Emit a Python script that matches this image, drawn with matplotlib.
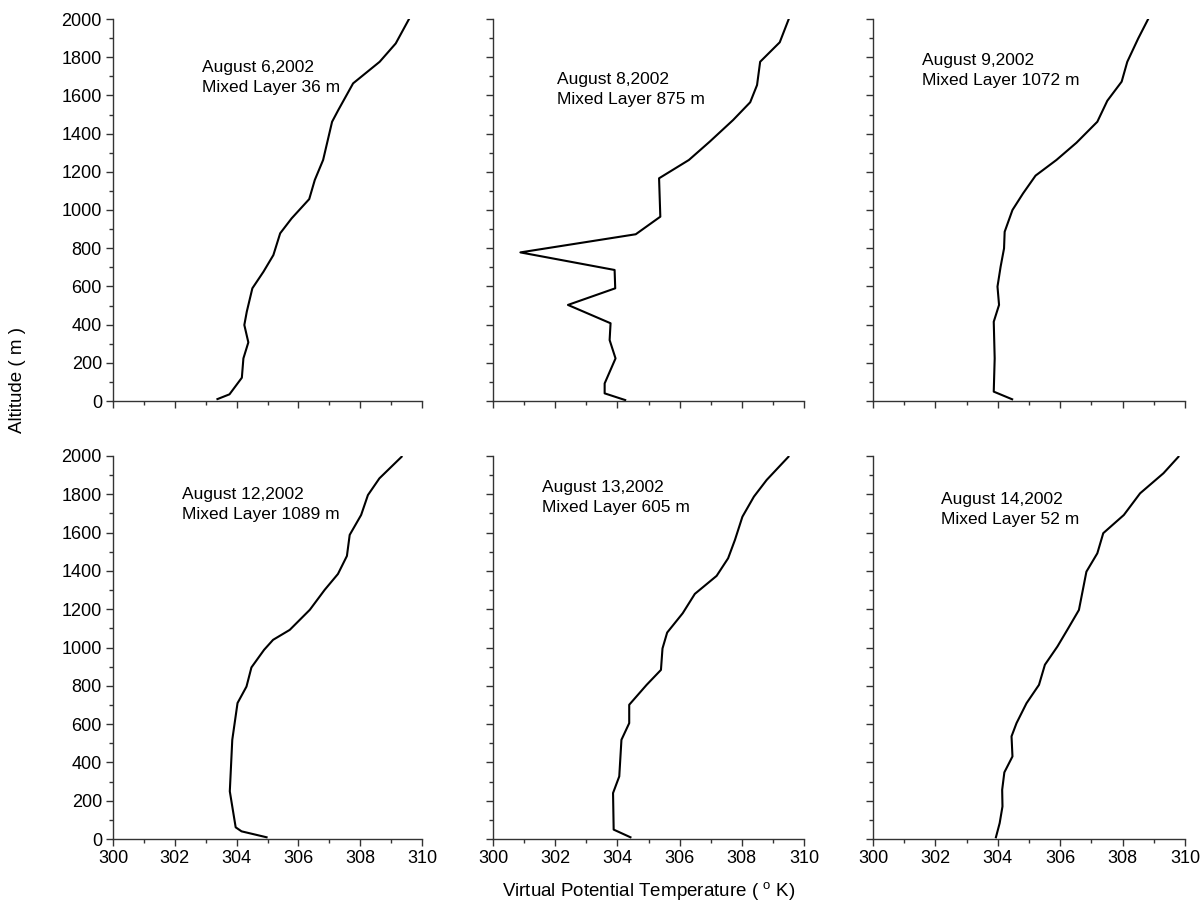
import numpy as np
import matplotlib
matplotlib.use("Agg")
import matplotlib.pyplot as plt
from matplotlib.ticker import MultipleLocator

plt.rcParams["font.family"] = ["Liberation Sans", "DejaVu Sans"]
plt.rcParams["mathtext.fontset"] = "custom"
plt.rcParams["mathtext.rm"] = "Liberation Sans"

aug6_t = [303.38, 303.77, 304.17, 304.22, 304.38, 304.25, 304.33, 304.51, 304.87, 305.19, 305.41,
          305.78, 306.35, 306.53, 306.80, 307.09, 307.29, 307.77, 308.63, 309.15, 309.58]
aug6_z = [10, 35, 122, 223, 307, 398, 468, 590, 677, 764, 878,
          956, 1057, 1157, 1262, 1462, 1523, 1663, 1776, 1872, 2000]

aug8_t = [304.25, 303.59, 303.59, 303.94, 303.75, 303.78, 302.41, 303.93, 303.91, 300.88, 304.59,
          305.38, 305.34, 306.30, 306.97, 307.72, 308.27, 308.49, 308.59, 309.22, 309.51]
aug8_z = [5, 40, 92, 223, 319, 407, 503, 590, 686, 778, 873,
          965, 1166, 1262, 1358, 1471, 1564, 1654, 1776, 1878, 2000]

aug9_t = [304.46, 303.87, 303.90, 303.87, 304.04, 303.99, 304.09, 304.20, 304.22, 304.47,
          304.81, 305.21, 305.88, 306.52, 307.19, 307.51, 307.97, 308.15, 308.50, 308.82]
aug9_z = [9, 49, 223, 415, 503, 599, 703, 799, 886, 1000,
          1087, 1180, 1262, 1352, 1462, 1572, 1672, 1776, 1898, 2000]

aug12_t = [304.97, 304.16, 303.97, 303.78, 303.86, 304.03, 304.32, 304.48, 304.89, 305.18,
           305.72, 306.37, 306.85, 307.28, 307.57, 307.66, 308.03, 308.25, 308.62, 309.34]
aug12_z = [9, 40, 61, 249, 518, 710, 796, 896, 988, 1040,
           1092, 1197, 1301, 1384, 1478, 1588, 1692, 1796, 1883, 1996]

aug13_t = [304.42, 303.88, 303.86, 304.06, 304.13, 304.38, 304.38, 304.94, 305.40, 305.45,
           305.60, 306.10, 306.49, 307.19, 307.56, 307.78, 308.02, 308.39, 308.80, 309.50]
aug13_z = [9, 49, 240, 327, 518, 605, 701, 805, 883, 995,
           1078, 1179, 1280, 1374, 1466, 1562, 1683, 1788, 1875, 1996]

aug14_t = [303.94, 304.06, 304.15, 304.14, 304.21, 304.47, 304.44, 304.60, 304.92, 305.32, 305.51,
           305.91, 306.26, 306.60, 306.84, 307.19, 307.38, 308.04, 308.56, 309.31, 309.79]
aug14_z = [9, 83, 170, 257, 348, 431, 536, 605, 709, 805, 910,
           1005, 1101, 1196, 1396, 1492, 1597, 1692, 1805, 1910, 1996]

dates = ["August 6,2002", "August 8,2002", "August 9,2002",
         "August 12,2002", "August 13,2002", "August 14,2002"]
mixed_layer = [36, 875, 1072, 1089, 605, 52]
temps = [aug6_t, aug8_t, aug9_t, aug12_t, aug13_t, aug14_t]
alts = [aug6_z, aug8_z, aug9_z, aug12_z, aug13_z, aug14_z]

# where each label sits, in data coords (left edge, top)
label_pos = [(302.87, 1785), (302.07, 1724), (301.58, 1824),
             (302.23, 1840), (301.56, 1875), (302.19, 1814)]

fig = plt.figure(figsize=(12.04, 9.07), dpi=100)
W, H = 1204, 907
lefts = [113, 493, 873]
widths = [309, 311, 312]
tops = [19, 456]
heights = [382, 383]

for i in range(6):
    r, c = divmod(i, 3)
    ax = fig.add_axes([lefts[c] / W, 1 - (tops[r] + heights[r]) / H,
                       widths[c] / W, heights[r] / H])
    ax.plot(temps[i], alts[i], color="black", lw=1.5)
    ax.set_xlim(300, 310)
    ax.set_ylim(0, 2000)
    ax.xaxis.set_major_locator(MultipleLocator(2))
    ax.xaxis.set_minor_locator(MultipleLocator(1))
    ax.yaxis.set_major_locator(MultipleLocator(200))
    ax.yaxis.set_minor_locator(MultipleLocator(100))
    for s in ["top", "right"]:
        ax.spines[s].set_visible(False)
    for s in ["left", "bottom"]:
        ax.spines[s].set_linewidth(1.0)
        ax.spines[s].set_color("#333333")
    ax.tick_params(which="major", direction="out", length=5, width=1.0,
                   labelsize=13, color="#333333", pad=3)
    ax.tick_params(which="minor", direction="out", length=3, width=1.0, color="#333333")
    if c != 0:
        ax.tick_params(labelleft=False)
    if r == 0:
        ax.tick_params(labelbottom=False)
    x0, y0 = label_pos[i]
    ax.text(x0, y0, f"{dates[i]}\nMixed Layer {mixed_layer[i]} m",
            fontsize=12.5, ha="left", va="top", linespacing=1.45)

fig.text(18 / W, 1 - 380 / H, "Altitude ( m )", rotation=90,
         ha="center", va="center", fontsize=13.5)
fig.text(649 / W, 1 - 892 / H, r"Virtual Potential Temperature ( $^{\mathrm{o}}$ K)",
         ha="center", va="center", fontsize=13.5)

plt.savefig("out.png", dpi=100)
